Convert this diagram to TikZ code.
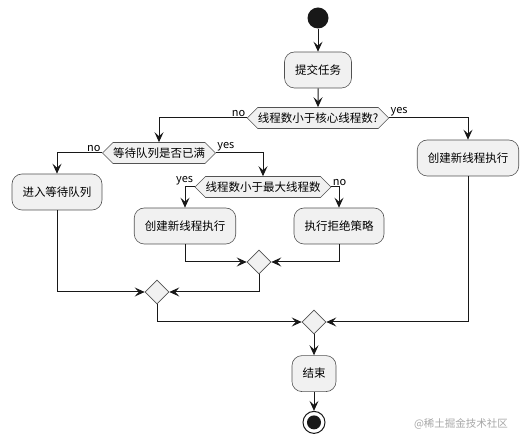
\documentclass[tikz,border=0pt]{standalone}
\usepackage{fontspec}
\setmainfont{Noto Sans CJK SC}
\usetikzlibrary{positioning}
\usetikzlibrary{arrows.meta}
\usetikzlibrary{shapes.geometric}
\usetikzlibrary{shapes.symbols}
\definecolor{boxfill}{HTML}{F1F1F1}
\definecolor{umlline}{HTML}{181818}

\begin{document}
\begin{tikzpicture}[x=1pt, y=-1pt,
    font=\fontsize{11.5}{13}\selectfont,
    act/.style={draw=umlline!75, fill=boxfill, rounded corners=10pt, minimum height=36pt, inner xsep=10.5pt, line width=0.6pt},
    test/.style={draw=umlline!75, fill=boxfill, signal, signal to=west and east, minimum height=21pt, inner xsep=0pt, inner ysep=0pt, line width=0.6pt},
    merge/.style={draw=umlline!75, fill=boxfill, diamond, minimum size=24pt, inner sep=0pt, line width=0.6pt},
    flow/.style={draw=umlline, line width=1pt, -{Stealth[length=10pt,width=9pt,inset=4pt]}},
    lbl/.style={font=\fontsize{11}{12}\selectfont, inner sep=1pt}]
    \useasboundingbox (0,0) rectangle (530,443);

    \node [circle, fill=umlline, minimum size=21pt, inner sep=0pt] (start) at (318,18) {};
    \node [act] (submit) at (318,70) {提交任务};
    \node [test] (q1) at (318,118) {线程数小于核心线程数?};
    \node [test] (q2) at (159,153) {等待队列是否已满};
    \node [act] (wait) at (57,192) {进入等待队列};
    \node [test] (q3) at (263,187) {线程数小于最大线程数};
    \node [act] (create) at (185,226) {创建新线程执行};
    \node [act] (reject) at (339,226) {执行拒绝策略};
    \node [act] (core) at (468,158) {创建新线程执行};
    \node [merge] (m1) at (259,262) {};
    \node [merge] (m2) at (157,292) {};
    \node [merge] (m3) at (314,322) {};
    \node [act, below=21pt of m3] (finish) {结束};
    \node [circle, draw=umlline, line width=1pt, fill=white, minimum size=22pt, inner sep=0pt, below=19pt of finish] (stop) {};
    \node [circle, fill=umlline, minimum size=14pt, inner sep=0pt] (stopdot) at (stop) {};
    \node [text=black!35, font=\fontsize{10.5}{12}\selectfont] (mark) at (461,424) {@稀土掘金技术社区};

    \draw [flow] (start) -- (submit);
    \draw [flow] (submit) -- (q1);
    \draw [flow] (q1.west) -| (q2.north) node [lbl, pos=0, anchor=south east] {no};
    \draw [flow] (q1.east) -| (core.north) node [lbl, pos=0, anchor=south west] {yes};
    \draw [flow] (q2.west) -| (wait.north) node [lbl, pos=0, anchor=south east] {no};
    \draw [flow] (q2.east) -| (q3.north) node [lbl, pos=0, anchor=south west] {yes};
    \draw [flow] (q3.west) -| (create.north) node [lbl, pos=0, anchor=south east] {yes};
    \draw [flow] (q3.east) -| (reject.north) node [lbl, pos=0, anchor=south west] {no};
    \draw [flow] (create.south) |- (m1.west);
    \draw [flow] (reject.south) |- (m1.east);
    \draw [flow] (wait.south) |- (m2.west);
    \draw [flow] (m1.south) |- (m2.east);
    \draw [flow] (m2.south) |- (m3.west);
    \draw [flow] (core.south) |- (m3.east);
    \draw [flow] (m3) -- (finish);
    \draw [flow] (finish) -- (stop);
\end{tikzpicture}
\end{document}
